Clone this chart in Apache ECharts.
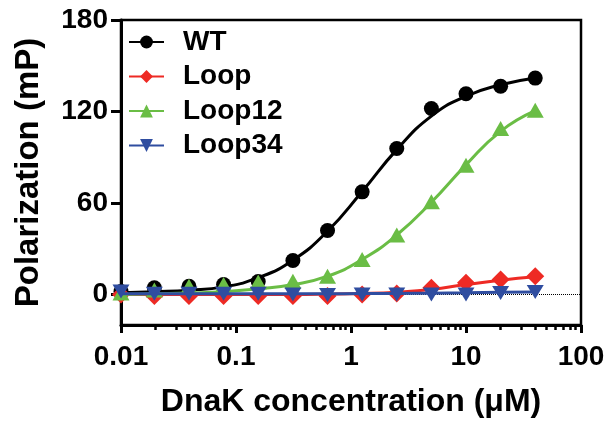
<!DOCTYPE html>
<html>
<head>
<meta charset="utf-8">
<script src="https://cdn.jsdelivr.net/npm/echarts@6/dist/echarts.min.js"></script>
<style>
html,body{margin:0;padding:0;background:#fff;}
#chart{width:610px;height:424px;}
</style>
</head>
<body>
<div id="chart"></div>
<script>
// DnaK concentration (µM)
var conc = [0.01, 0.0195, 0.039, 0.078, 0.156, 0.3125, 0.625, 1.25, 2.5, 5, 10, 20, 40];
// measured points (mP)
var wtPts     = [2, 4.4, 5.4, 6.5, 8.5, 22.3, 42, 67.3, 95.7, 122, 131.6, 136.6, 141.9];
var loopPts   = [0, -1, -1, -1, -1, -1, -1, 0, 0.7, 4.4, 7.7, 9.8, 12];
var loop12Pts = [1, 3, 5.4, 6.5, 8.2, 8.7, 12, 23, 39, 60.8, 84.8, 108.9, 120.9];
var loop34Pts = [2, 0.5, 0.5, 0.5, 0.5, 0, -0.3, 0, 0, 0, 0, 1, 1.7];
// fitted curves (mP)
var wtFit     = [1.1, 1.8, 2.8, 5, 11, 22.5, 41.5, 67.5, 95, 117, 130, 137.5, 142];
var loopFit   = [0, 0, 0, 0, 0, 0, 0.2, 0.6, 1.5, 3.3, 6.5, 9.4, 11.6];
var loop12Fit = [0, 0.5, 1, 1.8, 3.7, 6.5, 12, 23, 39, 60.5, 85, 107, 120.5];
var loop34Fit = [0.5, 0.5, 0.5, 0.5, 0.5, 0.5, 0.5, 0.6, 0.7, 0.9, 1.1, 1.4, 1.7];

var seriesNames = ['WT', 'Loop', 'Loop12', 'Loop34'];
var yTicks = [0, 60, 120, 180];
var xMinorTicks = [0.02,0.03,0.04,0.05,0.06,0.07,0.08,0.09,
                   0.2,0.3,0.4,0.5,0.6,0.7,0.8,0.9,
                   2,3,4,5,6,7,8,9,
                   20,30,40,50,60,70,80,90];

function pairs(ys){ return conc.map(function(x,i){ return [x, ys[i]]; }); }

var FONT = 'Liberation Sans, Arial, sans-serif';
var styles = [
  {color:'#000000', symbol:'circle', size:15, rotate:0},
  {color:'#EE2A24', symbol:'diamond', size:18, rotate:0},
  {color:'#6ABD45', symbol:'triangle', size:[17,15], rotate:0},
  {color:'#2F4DA0', symbol:'triangle', size:[17,14], rotate:180}
];
var fits = [wtFit, loopFit, loop12Fit, loop34Fit];
var pts = [wtPts, loopPts, loop12Pts, loop34Pts];

var series = [];
seriesNames.forEach(function(name, i){
  var st = styles[i];
  var lineS = {
    name: name, type: 'line', data: pairs(fits[i]),
    smooth: 0.5,
    symbol: st.symbol, symbolSize: st.size, symbolRotate: st.rotate,
    showSymbol: false, clip: false,
    lineStyle: {color: st.color, width: 3},
    itemStyle: {color: st.color},
    emphasis: {disabled: true},
    z: 2 + i*2
  };
  if (i === 0) {
    lineS.markLine = {
      silent: true, symbol: 'none', label: {show: false},
      lineStyle: {type: 'dotted', color: '#000', width: 1},
      data: [{yAxis: 0}]
    };
  }
  series.push(lineS);
  series.push({
    name: name, type: 'scatter', data: pairs(pts[i]),
    symbol: st.symbol, symbolSize: st.size, symbolRotate: st.rotate,
    clip: false,
    itemStyle: {color: st.color, opacity: 1},
    emphasis: {disabled: true},
    z: 3 + i*2
  });
});

var chart = echarts.init(document.getElementById('chart'), null, {renderer: 'canvas'});
chart.setOption({
  animation: false,
  backgroundColor: '#fff',
  grid: {left: 121, right: 29, top: 20, bottom: 99, show: true, borderColor: '#000', borderWidth: 2.5, backgroundColor: 'transparent'},
  legend: {
    data: seriesNames, orient: 'vertical', left: 128, top: 28, padding: 0,
    itemWidth: 35, itemHeight: 16, itemGap: 6.5,
    textStyle: {fontSize: 28, fontWeight: 'bold', fontFamily: FONT, color: '#000', padding: [0,0,0,14]},
    selectedMode: false
  },
  xAxis: [{
    type: 'log', logBase: 10, min: 0.01, max: 100,
    name: 'DnaK concentration (\u03BCM)', nameLocation: 'middle', nameGap: 61,
    nameTextStyle: {fontSize: 32, fontWeight: 'bold', fontFamily: FONT, color: '#000'},
    axisLine: {show: true, onZero: false, lineStyle: {color: '#000', width: 3}},
    axisTick: {show: true, length: 8, lineStyle: {color: '#000', width: 3}},
    axisLabel: {fontSize: 28, fontWeight: 'bold', fontFamily: FONT, color: '#000', margin: 18},
    splitLine: {show: false}, minorTick: {show: false}
  }, {
    type: 'log', logBase: 10, min: 0.01, max: 100, position: 'top', offset: -305,
    axisLine: {show: false, onZero: false},
    axisTick: {show: true, inside: true, length: 5, customValues: xMinorTicks, lineStyle: {color: '#000', width: 2.5}},
    axisLabel: {show: false},
    splitLine: {show: false}
  }],
  yAxis: {
    type: 'value', min: -20, max: 180,
    name: 'Polarization (mP)', nameLocation: 'middle', nameGap: 76,
    nameTextStyle: {fontSize: 33, fontWeight: 'bold', fontFamily: FONT, color: '#000'},
    axisLine: {show: true, onZero: false, lineStyle: {color: '#000', width: 3}},
    axisTick: {show: true, length: 10, customValues: yTicks, lineStyle: {color: '#000', width: 3}},
    axisLabel: {fontSize: 28, fontWeight: 'bold', fontFamily: FONT, color: '#000', margin: 13, customValues: yTicks},
    splitLine: {show: false}
  },
  series: series
});
</script>
</body>
</html>
